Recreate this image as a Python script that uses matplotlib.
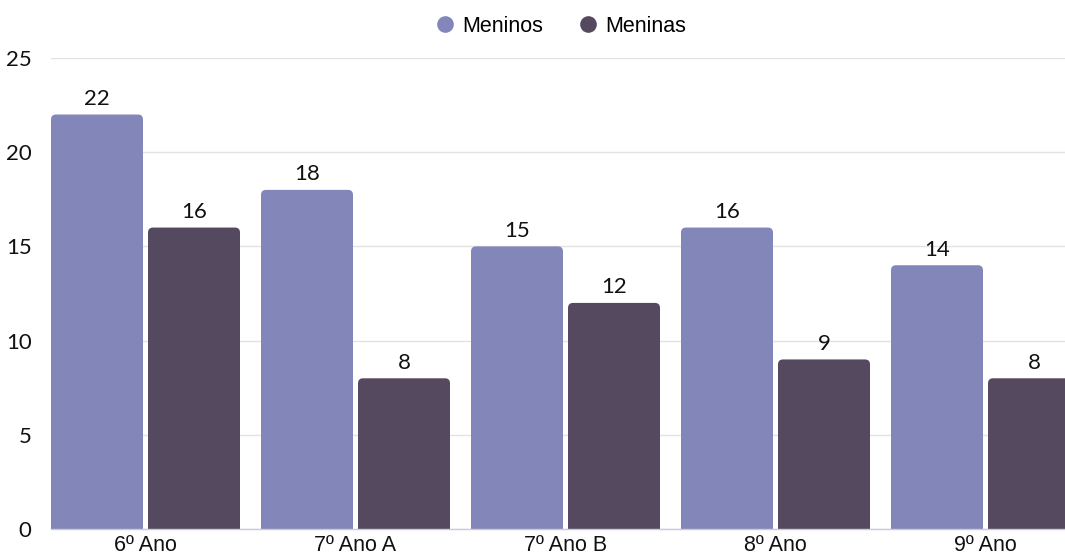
import matplotlib
matplotlib.use("Agg")
import matplotlib.pyplot as plt
from matplotlib.patches import FancyBboxPatch, Rectangle
from matplotlib.lines import Line2D
import numpy as np

categories = ["6º Ano", "7º Ano A", "7º Ano B", "8º Ano", "9º Ano"]
meninos = [22, 18, 15, 16, 14]
meninas = [16, 8, 12, 9, 8]
series_names = ["Meninos", "Meninas"]
colors = ["#8386B8", "#55495F"]
y_ticks = [0, 5, 10, 15, 20, 25]

W, H, DPI = 1065, 560, 100
fig = plt.figure(figsize=(W / DPI, H / DPI), dpi=DPI)
# axes run slightly past the right edge of the canvas
left_px, right_px, bottom_px, top_px = 51, 1080, 529, 58
ax = fig.add_axes([left_px / W, (H - bottom_px) / H,
                   (right_px - left_px) / W, (bottom_px - top_px) / H])

x = np.arange(len(categories))
bar_w = 0.438
gap = 0.024
ax.set_xlim(-0.45, len(categories) - 0.55)
ax.set_ylim(0, 25)

px_per_x = (right_px - left_px) / (ax.get_xlim()[1] - ax.get_xlim()[0])
px_per_y = (bottom_px - top_px) / 25
radius_px = 5
rx = radius_px / px_per_x
aspect = px_per_x / px_per_y

num_font = ["Lato", "DejaVu Sans"]
lab_font = ["Liberation Sans Narrow", "Liberation Sans", "DejaVu Sans"]

def rounded_bar(xc, h, color):
    x0 = xc - bar_w / 2
    ry = rx * aspect
    ax.add_patch(FancyBboxPatch((x0, 0), bar_w, h,
                                boxstyle=f"round,pad=0,rounding_size={rx}",
                                mutation_aspect=aspect, fc=color, ec="none",
                                zorder=3))
    ax.add_patch(Rectangle((x0, 0), bar_w, h - ry, fc=color, ec="none",
                           zorder=3))
    ax.text(xc, h + 0.3, f"{h}", ha="center", va="bottom", fontsize=16,
            family=num_font, color="#111111", zorder=4)

for i in x:
    rounded_bar(i - (bar_w + gap) / 2, meninos[i], colors[0])
    rounded_bar(i + (bar_w + gap) / 2, meninas[i], colors[1])

ax.set_yticks(y_ticks)
ax.set_yticklabels([str(t) for t in y_ticks], fontsize=16, family=num_font,
                   color="#111111")
ax.set_xticks(x)
ax.set_xticklabels(categories, fontsize=15.5, family=lab_font, color="#111111")
ax.tick_params(axis="y", length=0, pad=14)
ax.tick_params(axis="x", length=0, pad=4)
ax.grid(axis="y", color="#e3e3e3", linewidth=1, zorder=0)
for s in ["top", "right", "left"]:
    ax.spines[s].set_visible(False)
ax.spines["bottom"].set_color("#c8cbe0")
ax.spines["bottom"].set_linewidth(1)
ax.spines["bottom"].set_zorder(5)

handles = [Line2D([], [], marker="o", linestyle="none", markersize=12,
                  markerfacecolor=c, markeredgecolor="none") for c in colors]
fig.legend(handles, series_names, loc="center", bbox_to_anchor=(560 / W, 1 - 26 / H),
           ncol=2, frameon=False, prop={"family": lab_font, "size": 15.5},
           handletextpad=0.3, columnspacing=1.6, handlelength=1.0)

fig.savefig("out.png", dpi=DPI, facecolor="white")
